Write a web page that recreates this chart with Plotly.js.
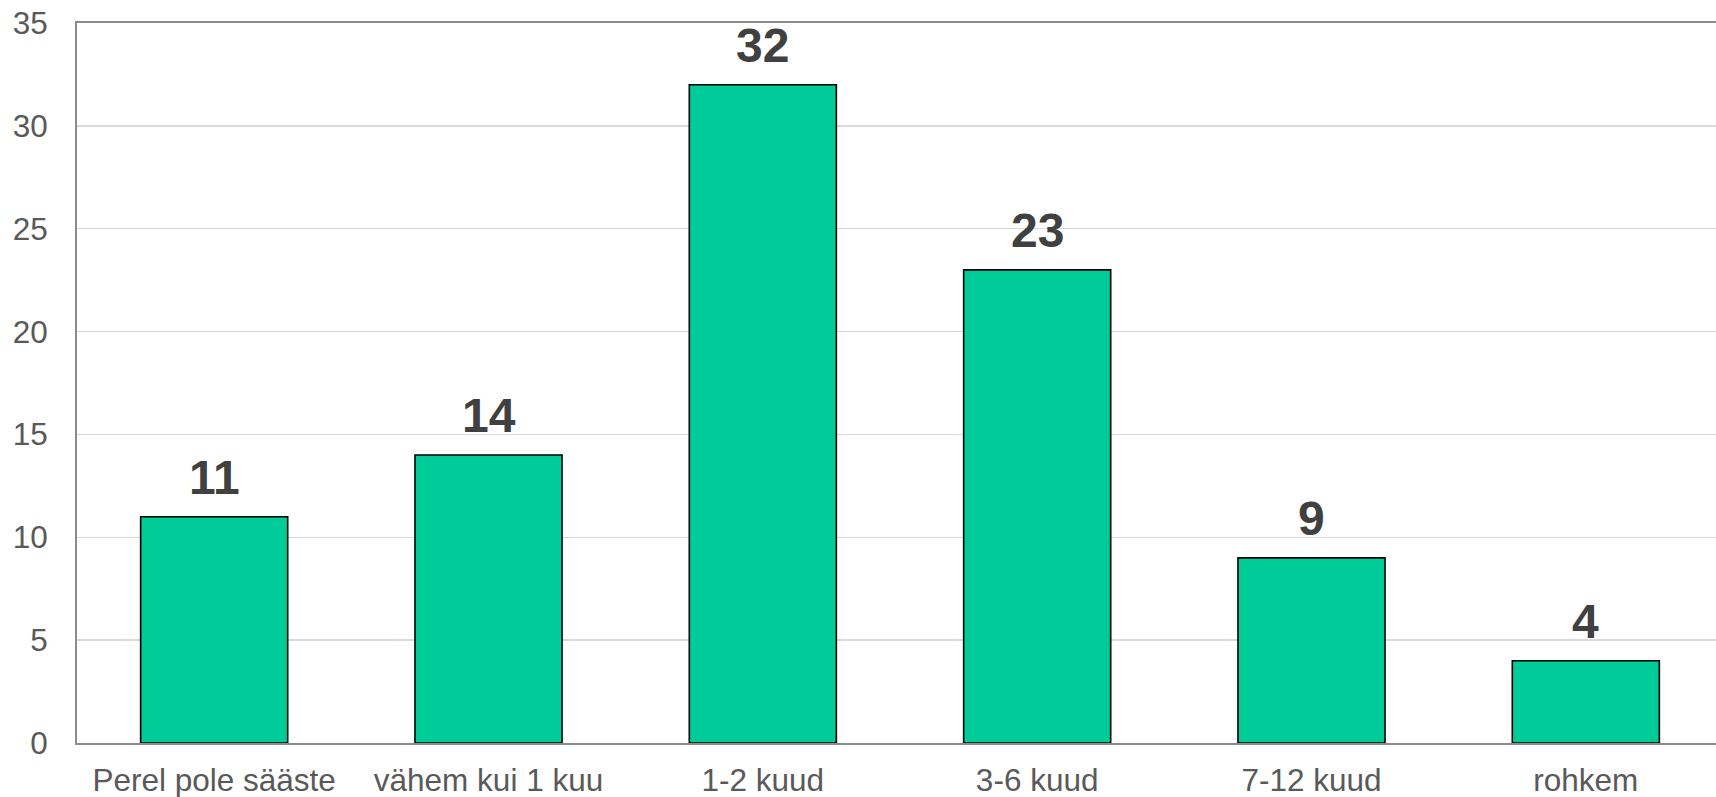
<!DOCTYPE html>
<html>
<head>
<meta charset="utf-8">
<script src="https://cdn.plot.ly/plotly-3.0.1.min.js"></script>
<style>
html,body{margin:0;padding:0;overflow:hidden;background:#fff;}
#chart{width:1723px;height:797px;}
</style>
</head>
<body>
<div id="chart"></div>
<script>
const categories = ["Perel pole sääste", "vähem kui 1 kuu", "1-2 kuud", "3-6 kuud", "7-12 kuud", "rohkem"];
const values = [11, 14, 32, 23, 9, 4];

const trace = {
  type: 'bar',
  x: categories,
  y: values,
  marker: {color: '#00CC99', line: {color: '#000000', width: 1.6}},
  hoverinfo: 'skip'
};

const annotations = categories.map((c, i) => ({
  x: c, y: values[i], xref: 'x', yref: 'y',
  text: String(values[i]),
  showarrow: false, yanchor: 'bottom', yshift: 11,
  font: {family: 'Liberation Sans, Arial, sans-serif', size: 48, color: '#404040', weight: 'bold'}
}));

const layout = {
  width: 1723, height: 797,
  margin: {l: 77, r: 0, t: 23, b: 54},
  paper_bgcolor: '#ffffff', plot_bgcolor: '#ffffff',
  showlegend: false,
  bargap: 0.464,
  font: {family: 'Liberation Sans, Arial, sans-serif', color: '#595959'},
  xaxis: {
    showline: true, mirror: true, linecolor: '#8c8c8c', linewidth: 2,
    tickfont: {size: 31.5, color: '#595959'},
    ticks: '', ticklabelstandoff: 8,
    showgrid: false, fixedrange: true
  },
  yaxis: {
    range: [0, 35], dtick: 5, tick0: 0,
    showline: true, linecolor: '#8c8c8c', linewidth: 2,
    gridcolor: '#d9d9d9', gridwidth: 1.5,
    zeroline: false,
    tickfont: {size: 31.5, color: '#595959'},
    ticks: '', ticklabelstandoff: 21,
    fixedrange: true
  },
  annotations: annotations
};

Plotly.newPlot('chart', [trace], layout, {displayModeBar: false, staticPlot: true});
</script>
</body>
</html>
